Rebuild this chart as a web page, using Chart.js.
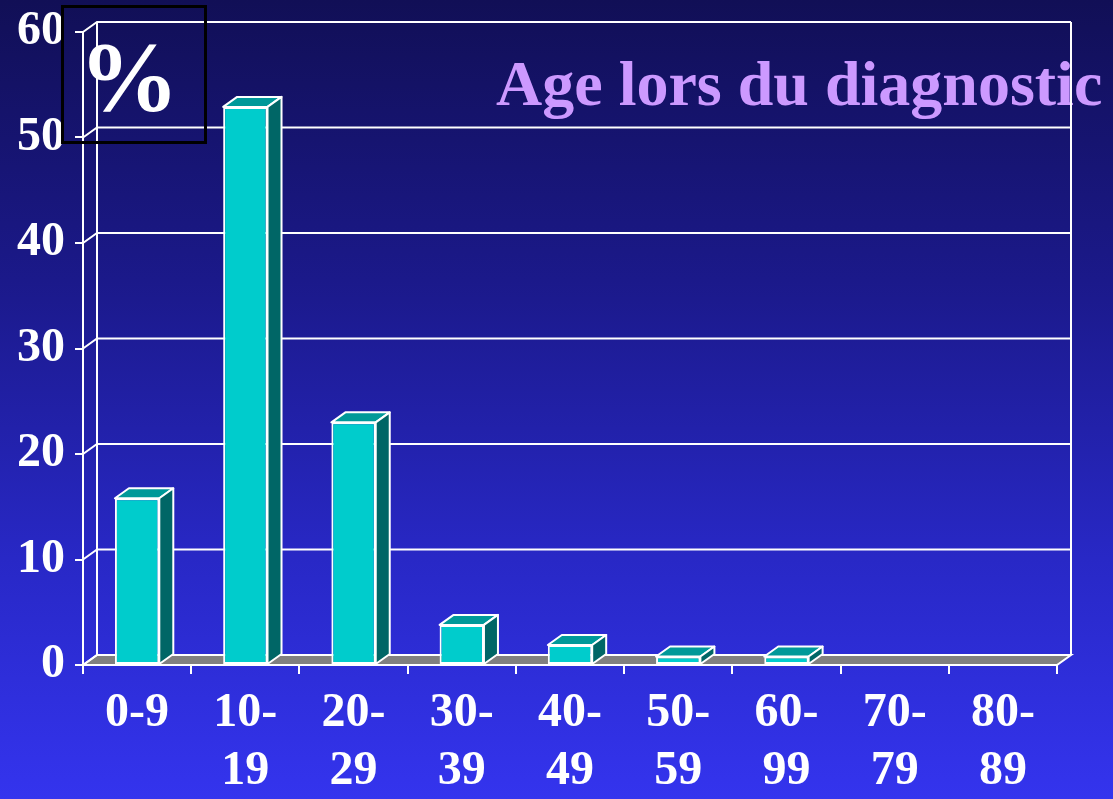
<!DOCTYPE html>
<html>
<head>
<meta charset="utf-8">
<script src="https://cdn.jsdelivr.net/npm/chart.js@4.4.0/dist/chart.umd.min.js"></script>
<style>
    html, body { margin: 0; padding: 0; }
    body {
        width: 1113px; height: 799px; overflow: hidden; position: relative;
        background: linear-gradient(to bottom, #110f56 0%, #1b198a 35%, #2828c6 70%, #3434ee 100%);
        font-family: 'Liberation Serif', 'Times New Roman', serif;
    }
    #title {
        position: absolute; left: 496px; top: 52px; z-index: 1;
        font-size: 64px; line-height: 64px; font-weight: bold;
        color: #cc99ff; white-space: nowrap;
    }
    #wrap { position: absolute; left: 0; top: 0; width: 1113px; height: 799px; z-index: 2; }
    #pct {
        position: absolute; left: 61px; top: 5px; width: 140px; height: 133px; z-index: 3;
        border: 3px solid #000;
    }
    #pct span {
        position: absolute; left: 15px; top: 19px;
        font-size: 100px; line-height: 100px; font-weight: bold; color: #fff;
    }
</style>
</head>
<body>
<div id="title">Age lors du diagnostic</div>
<div id="wrap"><canvas id="age-chart" width="1113" height="799"></canvas></div>
<div id="pct"><span>%</span></div>

<script>
    // Age groups and share of patients (%)
    const ageGroups = ['0-9', '10-19', '20-29', '30-39', '40-49', '50-59', '60-99', '70-79', '80-89'];
    const tickLabels = [['0-9'], ['10-', '19'], ['20-', '29'], ['30-', '39'], ['40-', '49'], ['50-', '59'], ['60-', '99'], ['70-', '79'], ['80-', '89']];
    const percentValues = [15.8, 52.9, 23.0, 3.8, 1.9, 0.8, 0.8, 0, 0];
    const yTicks = [0, 10, 20, 30, 40, 50, 60];

    const FONT = "'Liberation Serif', 'Times New Roman', serif";
    const DX = 14, DY = 10; // depth offset of the 3D back wall

    /**
     * Back wall, floor and 3D faces of the columns
     */
    const box3d = {
        id: 'box3d',
        beforeDatasetsDraw(chart) {
            const { ctx, chartArea: a, scales: { y } } = chart;
            ctx.save();
            ctx.strokeStyle = '#fff';
            ctx.lineWidth = 2;

            // floor
            ctx.fillStyle = '#808080';
            ctx.beginPath();
            ctx.moveTo(a.left, a.bottom);
            ctx.lineTo(a.left + DX, a.bottom - DY);
            ctx.lineTo(a.right + DX, a.bottom - DY);
            ctx.lineTo(a.right, a.bottom);
            ctx.closePath();
            ctx.fill();
            ctx.stroke();

            // gridlines on the back wall
            yTicks.forEach(v => {
                const py = y.getPixelForValue(v);
                ctx.beginPath();
                ctx.moveTo(a.left, py);
                ctx.lineTo(a.left + DX, py - DY);
                if (v > 0) ctx.lineTo(a.right + DX, py - DY);
                ctx.stroke();
            });

            // back wall edges
            ctx.beginPath();
            ctx.moveTo(a.left + DX, a.bottom - DY);
            ctx.lineTo(a.left + DX, a.top - DY);
            ctx.moveTo(a.right + DX, a.bottom - DY);
            ctx.lineTo(a.right + DX, a.top - DY);
            ctx.stroke();
            ctx.restore();
        },
        afterDatasetsDraw(chart) {
            const ctx = chart.ctx;
            const meta = chart.getDatasetMeta(0);
            ctx.save();
            ctx.strokeStyle = '#fff';
            ctx.lineWidth = 2;
            ctx.lineJoin = 'round';

            meta.data.forEach((bar, i) => {
                if (!(percentValues[i] > 0)) return;
                const { x, y, width, base } = bar.getProps(['x', 'y', 'width', 'base'], true);
                const l = x - width / 2, r = x + width / 2;

                // top face
                ctx.fillStyle = '#009999';
                ctx.beginPath();
                ctx.moveTo(l, y);
                ctx.lineTo(r, y);
                ctx.lineTo(r + DX, y - DY);
                ctx.lineTo(l + DX, y - DY);
                ctx.closePath();
                ctx.fill();
                ctx.stroke();

                // side face
                ctx.fillStyle = '#006666';
                ctx.beginPath();
                ctx.moveTo(r, y);
                ctx.lineTo(r + DX, y - DY);
                ctx.lineTo(r + DX, base - DY);
                ctx.lineTo(r, base);
                ctx.closePath();
                ctx.fill();
                ctx.stroke();
            });
            ctx.restore();
        }
    };

    new Chart(document.getElementById('age-chart'), {
        type: 'bar',
        data: {
            labels: tickLabels,
            datasets: [{
                label: 'Age lors du diagnostic',
                data: percentValues,
                backgroundColor: '#00cccc',
                borderColor: '#fff',
                borderWidth: 2,
                borderSkipped: false,
                barPercentage: 0.41,
                categoryPercentage: 1
            }]
        },
        options: {
            responsive: false,
            animation: false,
            layout: { padding: { top: 32, right: 56, left: 0, bottom: 0 } },
            plugins: {
                legend: { display: false },
                tooltip: { enabled: false }
            },
            scales: {
                x: {
                    grid: { drawOnChartArea: false, color: '#fff', lineWidth: 2, tickLength: 9, offset: true },
                    border: { color: '#fff', width: 2 },
                    ticks: {
                        color: '#fff',
                        font: { family: FONT, size: 48, weight: 'bold', lineHeight: 1.22 },
                        padding: 10,
                        maxRotation: 0,
                        autoSkip: false
                    },
                    afterFit: s => { s.height = 134; s.paddingLeft = 0; s.paddingRight = 0; }
                },
                y: {
                    min: 0,
                    max: 60,
                    afterBuildTicks: s => { s.ticks = yTicks.map(v => ({ value: v })); },
                    grid: { drawOnChartArea: false, color: '#fff', lineWidth: 2, tickLength: 8 },
                    border: { color: '#fff', width: 2 },
                    ticks: { color: '#fff', font: { family: FONT, size: 48, weight: 'bold' }, padding: 10 },
                    afterFit: s => { s.width = 83; s.paddingTop = 0; s.paddingBottom = 0; }
                }
            }
        },
        plugins: [box3d]
    });
</script>
</body>
</html>
